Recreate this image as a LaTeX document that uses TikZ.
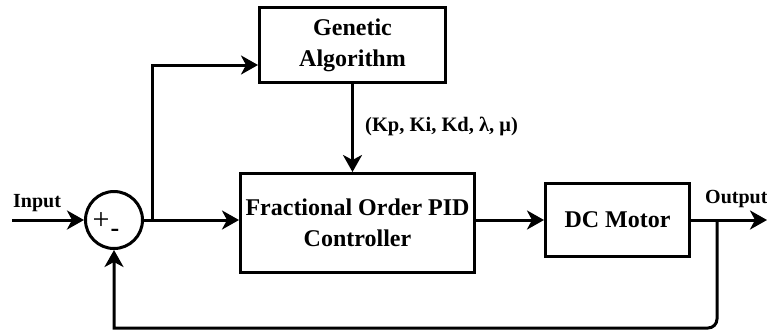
\documentclass[tikz,border=0pt]{standalone}
\usepackage{fontspec}
\setmainfont{Liberation Serif}
\usetikzlibrary{arrows.meta}
\begin{document}
\begin{tikzpicture}[x=1pt,y=-1pt,
    block/.style={draw, line width=3pt, align=center, inner sep=0pt,
      font=\fontsize{24}{31}\selectfont\bfseries},
    conn/.style={line width=3pt, -{Stealth[length=17pt,width=19pt,inset=5pt]}},
    tag/.style={font=\fontsize{20}{24}\selectfont\bfseries, inner sep=0pt}]
  \useasboundingbox (0,0) rectangle (767,333);
  % summing junction
  \node[draw, circle, line width=3pt, minimum size=57pt, inner sep=0pt] (sum) at (114,220) {};
  \node[font=\fontsize{30}{30}\selectfont, inner sep=0pt] (plus) at (101,221) {+};
  \node[font=\fontsize{26}{26}\selectfont\bfseries, inner sep=0pt] (minus) at (115,233) {-};
  % blocks
  \node[block, minimum width=186pt, minimum height=75pt] (ga) at (352.5,45) {Genetic\\Algorithm};
  \node[block, minimum width=234pt, minimum height=99pt] (pid) at (357.5,223) {Fractional Order PID\\Controller};
  \node[block, minimum width=144pt, minimum height=73pt] (motor) at (617.5,220) {DC Motor};
  % free ends and branch points
  \coordinate (in) at (12,220);
  \coordinate (out) at (767,220);
  \coordinate (split) at (152,220);
  \coordinate (tap) at (717,220);
  % connectors
  \draw[conn] (in) -- (sum.west);
  \draw[conn] (sum.east) -- (sum.east -| pid.west);
  \draw[conn] (split) |- ([yshift=-20pt]ga.west);
  \draw[conn] (ga.south) -- (ga.south |- pid.north);
  \draw[conn] (pid.east |- motor.west) -- (motor.west);
  \draw[conn] (motor.east) -- (out);
  \draw[conn] (tap) [rounded corners=9pt] -- (tap |- 0,328) [sharp corners] -- (sum.south |- 0,328) -- (sum.south);
  % labels
  \node[tag, anchor=base west] (inlbl) at (13,207) {Input};
  \node[tag, anchor=base west] (outlbl) at (705,203) {Output};
  \node[tag, font=\fontsize{20.5}{24}\selectfont\bfseries, anchor=base west] (gains) at (365,131) {(Kp, Ki, Kd, λ, μ)};
\end{tikzpicture}
\end{document}
